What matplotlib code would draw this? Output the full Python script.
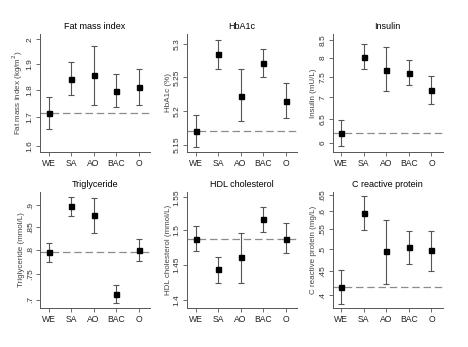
import matplotlib
matplotlib.use("Agg")
import matplotlib.pyplot as plt
from matplotlib.ticker import NullLocator, NullFormatter

plt.rcParams["font.family"] = ["Liberation Sans", "DejaVu Sans"]

# groups on the x axis
groups = ["WE", "SA", "AO", "BAC", "O"]

# geometric means and 95% CI per outcome
fmi_mean = [1.714, 1.840, 1.855, 1.795, 1.811]
fmi_low = [1.657, 1.779, 1.742, 1.738, 1.742]
fmi_high = [1.774, 1.906, 1.972, 1.859, 1.880]

hba1c_mean = [5.171, 5.285, 5.223, 5.272, 5.215]
hba1c_low = [5.148, 5.262, 5.186, 5.250, 5.190]
hba1c_high = [5.194, 5.306, 5.262, 5.293, 5.241]

insulin_mean = [6.19, 8.04, 7.69, 7.61, 7.18]
insulin_low = [5.92, 7.71, 7.14, 7.29, 6.83]
insulin_high = [6.47, 8.38, 8.30, 7.94, 7.53]

tg_mean = [0.795, 0.898, 0.878, 0.711, 0.800]
tg_low = [0.774, 0.874, 0.837, 0.694, 0.777]
tg_high = [0.814, 0.921, 0.918, 0.729, 0.823]

hdl_mean = [1.488, 1.443, 1.461, 1.517, 1.488]
hdl_low = [1.470, 1.424, 1.424, 1.498, 1.467]
hdl_high = [1.507, 1.461, 1.496, 1.535, 1.511]

crp_mean = [0.416, 0.594, 0.495, 0.504, 0.497]
crp_low = [0.383, 0.549, 0.422, 0.465, 0.449]
crp_high = [0.452, 0.645, 0.576, 0.545, 0.545]

panels = [
    ("Fat mass index", "Fat mass index (kg/m$^2$)", fmi_mean, fmi_low, fmi_high,
     [1.6, 1.7, 1.8, 1.9, 2.0], ["1.6", "1.7", "1.8", "1.9", "2"], (1.581, 2.022)),
    ("HbA1c", "HbA1c (%)", hba1c_mean, hba1c_low, hba1c_high,
     [5.15, 5.2, 5.25, 5.3], ["5.15", "5.2", "5.25", "5.3"], (5.140, 5.315)),
    ("Insulin", "Insulin (mU/L)", insulin_mean, insulin_low, insulin_high,
     [6, 6.5, 7, 7.5, 8, 8.5], ["6", "6.5", "7", "7.5", "8", "8.5"], (5.81, 8.68)),
    ("Triglyceride", "Triglyceride (mmol/L)", tg_mean, tg_low, tg_high,
     [0.7, 0.75, 0.8, 0.85, 0.9], [".7", ".75", ".8", ".85", ".9"], (0.685, 0.932)),
    ("HDL cholesterol", "HDL cholesterol (mmol/L)", hdl_mean, hdl_low, hdl_high,
     [1.4, 1.45, 1.5, 1.55], ["1.4", "1.45", "1.5", "1.55"], (1.389, 1.558)),
    ("C reactive protein", "C reactive protein (mg/L)", crp_mean, crp_low, crp_high,
     [0.4, 0.45, 0.5, 0.55, 0.6, 0.65], [".4", ".45", ".5", ".55", ".6", ".65"], (0.376, 0.658)),
]

# axes boxes in figure fraction
lefts = [0.0855, 0.3996, 0.711]
bottoms = [0.562, 0.1124]
heights = [0.340, 0.334]
width = 0.235

fig = plt.figure(figsize=(4.68, 3.47), dpi=100)
x = list(range(1, len(groups) + 1))

for i, (title, ylabel, mean, low, high, ticks, labels, ylim) in enumerate(panels):
    row, col = divmod(i, 3)
    ax = fig.add_axes([lefts[col], bottoms[row], width, heights[row]])
    ax.set_yscale("log")
    yerr = [[m - l for m, l in zip(mean, low)], [h - m for m, h in zip(mean, high)]]
    ax.errorbar(x, mean, yerr=yerr, fmt="none", ecolor="#555555", elinewidth=0.8,
                capsize=2.0, capthick=0.8)
    ax.plot(x, mean, "s", color="black", markersize=3.6, zorder=3)
    ax.axhline(mean[0], color="#8c8c8c", linestyle=(0, (6, 3)), linewidth=0.9, zorder=1)

    ax.set_xlim(0.62, 5.5)
    ax.set_ylim(*ylim)
    ax.set_xticks(x)
    ax.set_xticklabels(groups, fontsize=6.2)
    ax.set_yticks(ticks)
    ax.set_yticklabels(labels, fontsize=6.0)
    ax.yaxis.set_minor_locator(NullLocator())
    ax.yaxis.set_minor_formatter(NullFormatter())
    ax.tick_params(axis="y", labelrotation=90, length=3, width=0.6, pad=1.5,
                   color="#555555", labelcolor="#333333")
    ax.tick_params(axis="x", length=3, width=0.6, pad=2,
                   color="#555555", labelcolor="#222222")
    for lbl in ax.get_yticklabels():
        lbl.set_va("center")
    ax.set_ylabel(ylabel, fontsize=5.8, color="#444444", labelpad=1.5)
    ax.set_title(title, fontsize=6.5, pad=3.5)
    for side in ["top", "right"]:
        ax.spines[side].set_visible(False)
    for side in ["left", "bottom"]:
        ax.spines[side].set_color("#555555")
        ax.spines[side].set_linewidth(0.7)

fig.savefig("out.png", dpi=100, facecolor="white")
